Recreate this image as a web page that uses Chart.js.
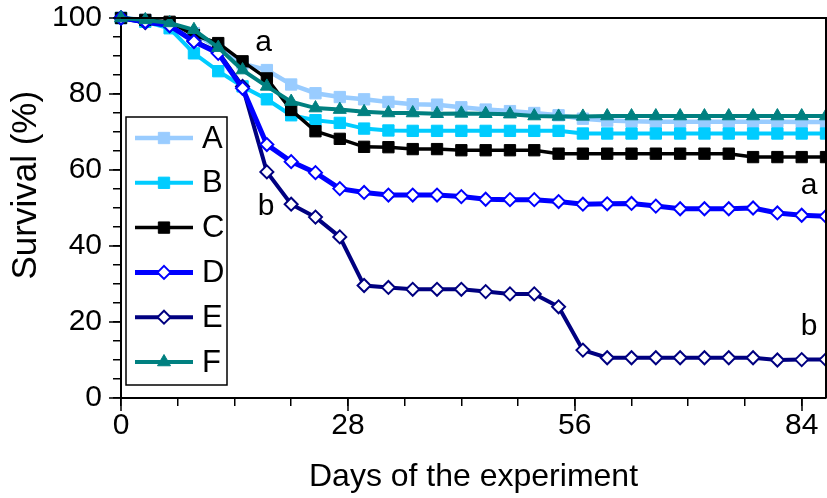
<!DOCTYPE html>
<html>
<head>
<meta charset="utf-8">
<script src="https://cdn.jsdelivr.net/npm/chart.js@4.4.0/dist/chart.umd.min.js"></script>
<style>
  html, body { margin: 0; padding: 0; background: #fff; }
  #wrap { width: 827px; height: 498px; }
</style>
</head>
<body>
<div id="wrap"><canvas id="survivalChart" width="827" height="498"></canvas></div>
<script>
// sampling days (every 3 days)
const days = [0, 3, 6, 9, 12, 15, 18, 21, 24, 27, 30, 33, 36, 39, 42, 45, 48, 51, 54, 57, 60, 63, 66, 69, 72, 75, 78, 81, 84, 87];

// survival (%) per group
const survA = [100, 99.5, 98.5, 96, 92, 88, 86.3, 82.5, 80.2, 79.2, 78.6, 77.9, 77.3, 77.2, 76.5, 75.9, 75.5, 75, 74.4, 73.5, 73, 72.8, 72.7, 72.7, 72.7, 72.7, 72.7, 72.7, 72.6, 72.6];
const survB = [100, 99, 97.3, 90.7, 86, 82, 78.6, 74.4, 73.1, 72.4, 70.9, 70.4, 70.3, 70.3, 70.3, 70.3, 70.3, 70.3, 70.3, 69.6, 69.6, 69.6, 69.6, 69.6, 69.6, 69.6, 69.6, 69.6, 69.6, 69.6];
const survC = [100, 99.5, 99, 95.5, 93.4, 88.6, 84.1, 75.8, 70.2, 68.2, 66.1, 66, 65.5, 65.5, 65.2, 65.2, 65.2, 65.2, 64.3, 64.3, 64.3, 64.3, 64.3, 64.3, 64.3, 64.3, 63.4, 63.4, 63.4, 63.4];
const survD = [100, 99, 98, 93.8, 90.7, 81.5, 66.7, 62.2, 59.3, 55.1, 54.1, 53.4, 53.4, 53.4, 53, 52.3, 52.2, 52.2, 51.7, 51, 51.1, 51.2, 50.5, 49.8, 49.8, 49.8, 50, 48.7, 48.1, 47.8];
const survE = [100, 98.8, 98, 94, 91, 82, 59.5, 51, 47.6, 42.4, 29.6, 29.1, 28.6, 28.6, 28.6, 28, 27.4, 27.4, 24, 12.6, 10.6, 10.6, 10.6, 10.6, 10.6, 10.6, 10.6, 10, 10.1, 10.1];
const survF = [100, 99.5, 98.7, 96.9, 92.2, 86.3, 82, 78, 76.3, 75.9, 75.3, 75, 75, 74.8, 74.9, 74.8, 74.7, 74.2, 74.1, 74.1, 74.2, 74.2, 74.2, 74.2, 74.2, 74.2, 74.2, 74.2, 74.2, 74.2];

const groupNames = ['A', 'B', 'C', 'D', 'E', 'F'];
const groupColors = ['#99ccff', '#00ccff', '#000000', '#0000ff', '#000080', '#008080'];

// x tick values (minor every 7 days, labelled every 28)
const dayTicks = [0, 7, 14, 21, 28, 35, 42, 49, 56, 63, 70, 77, 84];

// letters of significance groups: [day, survival, text]
const sigLetters = [[17.6, 93.5, 'a'], [17.9, 50.3, 'b'], [84.9, 55.8, 'a'], [84.9, 18.7, 'b']];

const FONT = '"Liberation Sans", Arial, sans-serif';

function toPoints(vals) {
  return vals.map((v, i) => ({ x: days[i], y: v }));
}

const markers = [
  { style: 'rect', radius: 8, fill: groupColors[0], border: 1, width: 4.5 },
  { style: 'rect', radius: 8, fill: groupColors[1], border: 1, width: 4 },
  { style: 'rect', radius: 8, fill: groupColors[2], border: 1, width: 3.5 },
  { style: 'rectRot', radius: 6.5, fill: '#ffffff', border: 2, width: 5 },
  { style: 'rectRot', radius: 6.5, fill: '#ffffff', border: 2, width: 4 },
  { style: 'triangle', radius: 7.5, fill: groupColors[5], border: 1, width: 4 }
];

const allSeries = [survA, survB, survC, survD, survE, survF];
const drawOrder = [6, 5, 4, 2, 3, 1];

const datasets = allSeries.map((vals, i) => ({
  label: groupNames[i],
  data: toPoints(vals),
  borderColor: groupColors[i],
  backgroundColor: markers[i].fill,
  borderWidth: markers[i].width,
  pointStyle: markers[i].style,
  pointRadius: markers[i].radius,
  pointBorderWidth: markers[i].border,
  pointBorderColor: groupColors[i],
  pointBackgroundColor: markers[i].fill,
  tension: 0,
  order: drawOrder[i],
  clip: { left: 12, top: 12, right: 0, bottom: 12 }
}));

// own small marker painter for the legend
function paintMarker(ctx, m, color, x, y) {
  ctx.save();
  ctx.fillStyle = m.fill;
  ctx.strokeStyle = color;
  ctx.lineWidth = m.border;
  ctx.beginPath();
  const r = m.radius;
  if (m.style === 'rect') {
    const s = Math.SQRT1_2 * r;
    ctx.rect(x - s, y - s, 2 * s, 2 * s);
  } else if (m.style === 'rectRot') {
    ctx.moveTo(x, y - r);
    ctx.lineTo(x + r, y);
    ctx.lineTo(x, y + r);
    ctx.lineTo(x - r, y);
    ctx.closePath();
  } else {
    let rad = 0;
    ctx.moveTo(x + Math.sin(rad) * r, y - Math.cos(rad) * r);
    rad += 2 * Math.PI / 3;
    ctx.lineTo(x + Math.sin(rad) * r, y - Math.cos(rad) * r);
    rad += 2 * Math.PI / 3;
    ctx.lineTo(x + Math.sin(rad) * r, y - Math.cos(rad) * r);
    ctx.closePath();
  }
  ctx.fill();
  ctx.stroke();
  ctx.restore();
}

// frame, major ticks, y title, letters and boxed legend
const decorPlugin = {
  id: 'decor',
  afterDatasetsDraw(chart) {
    const ctx = chart.ctx;
    const area = chart.chartArea;
    const xs = chart.scales.x;
    const ys = chart.scales.y;

    ctx.save();
    ctx.strokeStyle = '#000';
    ctx.lineWidth = 2;
    ctx.beginPath();
    ctx.moveTo(area.left, area.top);
    ctx.lineTo(area.right, area.top);
    ctx.lineTo(area.right, area.bottom);
    ctx.stroke();

    // longer ticks at labelled values
    ctx.lineWidth = 1.5;
    ctx.beginPath();
    [0, 28, 56, 84].forEach(d => {
      const px = Math.round(xs.getPixelForValue(d));
      ctx.moveTo(px, area.bottom);
      ctx.lineTo(px, area.bottom + 13);
    });
    [0, 20, 40, 60, 80, 100].forEach(v => {
      const py = Math.round(ys.getPixelForValue(v));
      ctx.moveTo(area.left, py);
      ctx.lineTo(area.left - 12, py);
    });
    ctx.stroke();

    // y axis title
    ctx.fillStyle = '#000';
    ctx.save();
    ctx.translate(26, ys.getPixelForValue(56));
    ctx.rotate(-Math.PI / 2);
    ctx.font = '35px ' + FONT;
    ctx.textAlign = 'center';
    ctx.textBaseline = 'middle';
    ctx.fillText('Survival (%)', 0, 0);
    ctx.restore();

    // significance letters
    ctx.font = '30px ' + FONT;
    ctx.textAlign = 'center';
    ctx.textBaseline = 'middle';
    sigLetters.forEach(([d, v, t]) => {
      ctx.fillText(t, xs.getPixelForValue(d), ys.getPixelForValue(v));
    });

    // legend box
    const bx = area.left + 5, by = area.top + 99, bw = 101, bh = 268;
    ctx.fillStyle = '#fff';
    ctx.fillRect(bx, by, bw, bh);
    ctx.strokeStyle = '#000';
    ctx.lineWidth = 1.5;
    ctx.strokeRect(bx, by, bw, bh);
    ctx.font = '31px ' + FONT;
    groupNames.forEach((name, i) => {
      const ly = by + 21 + i * 44.8;
      ctx.strokeStyle = groupColors[i];
      ctx.lineWidth = markers[i].width;
      ctx.beginPath();
      ctx.moveTo(bx + 9, ly);
      ctx.lineTo(bx + 67, ly);
      ctx.stroke();
      paintMarker(ctx, markers[i], groupColors[i], bx + 38, ly);
      ctx.fillStyle = '#000';
      ctx.textAlign = 'left';
      ctx.fillText(name, bx + 76, ly + 1);
    });
    ctx.restore();
  }
};

new Chart(document.getElementById('survivalChart').getContext('2d'), {
  type: 'line',
  data: { datasets: datasets },
  options: {
    responsive: false,
    animation: false,
    layout: { autoPadding: false, padding: { top: 18, right: 1, left: 0, bottom: 0 } },
    plugins: {
      legend: { display: false },
      tooltip: { enabled: false }
    },
    scales: {
      x: {
        type: 'linear',
        min: 0,
        max: 87,
        afterBuildTicks: scale => {
          scale.ticks = dayTicks.map(v => ({ value: v }));
        },
        afterFit: scale => {
          scale.height = 100;
          scale.paddingLeft = 0;
          scale.paddingRight = 0;
        },
        ticks: {
          stepSize: 7,
          includeBounds: false,
          autoSkip: false,
          maxRotation: 0,
          padding: 2,
          color: '#000',
          font: { family: FONT, size: 30 },
          callback: v => (v % 28 === 0 ? v : '')
        },
        grid: { drawOnChartArea: false, color: '#000', lineWidth: 1.5, tickLength: 8 },
        border: { color: '#000', width: 2 },
        title: {
          display: true,
          text: 'Days of the experiment',
          color: '#000',
          font: { family: FONT, size: 32 },
          padding: { top: 0, bottom: 2 }
        }
      },
      y: {
        min: 0,
        max: 100,
        afterBuildTicks: scale => {
          scale.ticks = scale.ticks.filter(t => t.value % 5 === 0);
        },
        afterFit: scale => {
          scale.width = 121;
          scale.paddingTop = 0;
          scale.paddingBottom = 0;
        },
        ticks: {
          stepSize: 5,
          autoSkip: false,
          padding: 11,
          color: '#000',
          font: { family: FONT, size: 30 },
          callback: v => (v % 20 === 0 ? v : '')
        },
        grid: { drawOnChartArea: false, color: '#000', lineWidth: 1.5, tickLength: 8 },
        border: { color: '#000', width: 2 },
        title: { display: false }
      }
    }
  },
  plugins: [decorPlugin]
});
</script>
</body>
</html>
